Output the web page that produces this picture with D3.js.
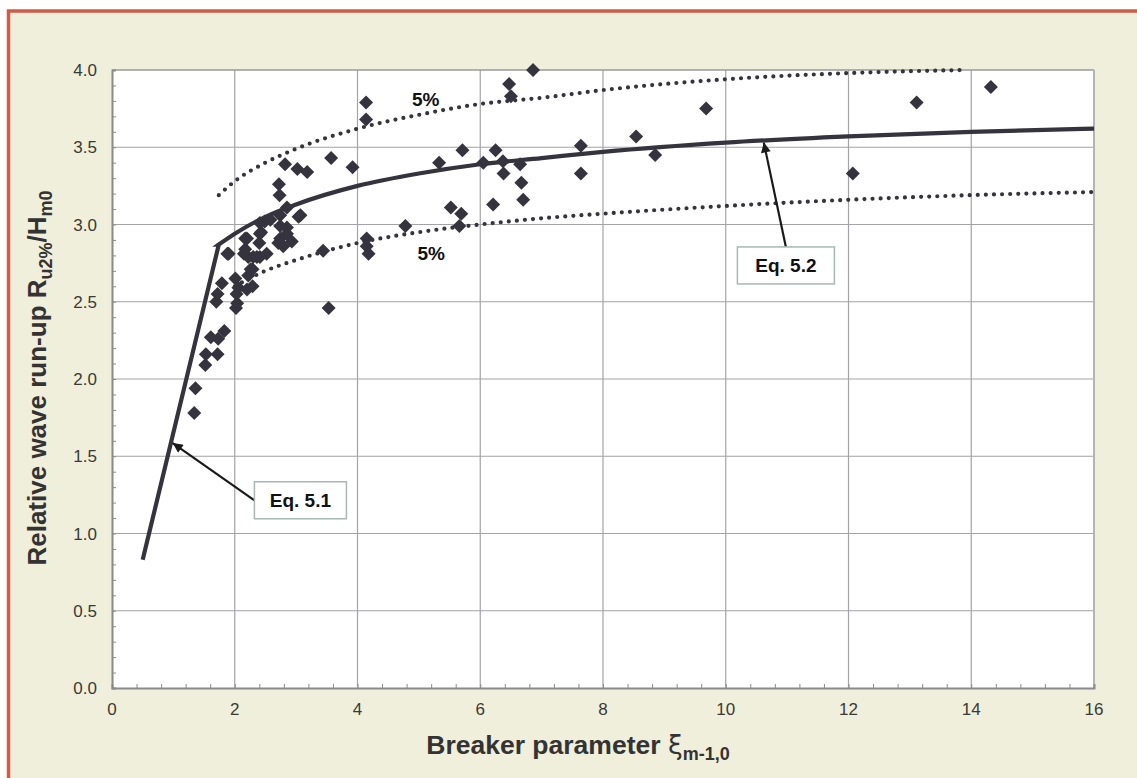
<!DOCTYPE html>
<html><head><meta charset="utf-8">
<script src="https://cdn.jsdelivr.net/npm/d3@7"></script>
<style>
html,body{margin:0;padding:0;background:#fff;}
svg{display:block;}
text{font-family:"Liberation Sans",Arial,Helvetica,sans-serif;}
</style></head>
<body>
<svg id="chart" width="1137" height="778"></svg>
<script>
// ---- data ----
const xiValues = [1.34,1.36,1.52,1.53,1.61,1.72,1.73,1.83,1.70,1.72,1.79,1.88,2.02,2.04,2.03,2.01,2.06,2.20,2.29,2.22,2.29,2.17,2.15,2.22,2.30,2.41,2.40,2.52,2.41,2.71,2.74,2.85,2.93,2.49,2.58,2.74,2.85,3.04,2.72,2.73,2.82,3.02,3.18,3.57,3.92,2.79,2.36,2.17,3.44,3.53,4.15,4.15,4.18,4.14,4.14,4.78,5.33,5.52,5.69,5.66,5.71,6.05,6.21,6.25,6.37,6.38,6.47,6.50,6.65,6.67,6.70,6.86,7.64,7.64,8.54,8.85,9.68,12.07,13.11,14.32,2.43,2.85,2.74,2.26,2.41,3.07,1.90,2.20];
const ruValues = [1.78,1.94,2.09,2.16,2.27,2.16,2.26,2.31,2.50,2.55,2.62,2.81,2.46,2.49,2.55,2.65,2.59,2.58,2.60,2.67,2.71,2.91,2.81,2.79,2.79,2.94,2.88,2.81,2.79,2.88,2.91,2.94,2.89,3.02,3.03,3.06,3.11,3.05,3.26,3.19,3.39,3.36,3.34,3.43,3.37,2.86,2.79,2.84,2.83,2.46,2.91,2.86,2.81,3.79,3.68,2.99,3.40,3.11,3.07,2.99,3.48,3.40,3.13,3.48,3.41,3.33,3.91,3.83,3.39,3.27,3.16,4.00,3.51,3.33,3.57,3.45,3.75,3.33,3.79,3.89,2.95,2.98,2.99,2.71,3.01,3.06,2.81,2.91];

const eq51Xi = [0.5, 1.74];
const eq51R  = [0.83, 2.87];
const eq52Xi = [1.74, 2, 2.5, 3, 4, 5, 6, 7, 8, 10, 12, 14, 16];
const eq52R  = [2.87, 2.94, 3.05, 3.13, 3.25, 3.33, 3.39, 3.43, 3.47, 3.53, 3.57, 3.60, 3.62];
const upperXi = [1.74, 2, 2.5, 3, 4, 5, 6, 7, 8, 10, 12, 13.9];
const upperR  = [3.19, 3.28, 3.40, 3.49, 3.62, 3.71, 3.78, 3.82, 3.87, 3.94, 3.98, 4.00];
const lowerXi = [2, 2.5, 3, 4, 5, 6, 7, 8, 10, 12, 14, 16];
const lowerR  = [2.60, 2.70, 2.77, 2.88, 2.95, 3.00, 3.04, 3.07, 3.12, 3.16, 3.19, 3.21];

const xTicks = [0,2,4,6,8,10,12,14,16];
const yTicks = [0,0.5,1,1.5,2,2.5,3,3.5,4];
const xTickLabels = ["0","2","4","6","8","10","12","14","16"];
const yTickLabels = ["0.0","0.5","1.0","1.5","2.0","2.5","3.0","3.5","4.0"];

const labels5 = [{xi:5.11, r:3.77, text:"5%"}, {xi:5.2, r:2.77, text:"5%"}];
const eqNotes = [
  {text:"Eq. 5.1", boxXi:3.07, boxR:1.215, w:92, h:37, tipXi:0.99, tipR:1.585, from:"left"},
  {text:"Eq. 5.2", boxXi:10.98, boxR:2.735, w:97, h:37, tipXi:10.62, tipR:3.53, from:"top"}
];

// ---- drawing ----
const svg = d3.select("#chart");
const W = 1137, H = 778;
const M = {left:112, right:1094, top:70, bottom:688};
const ink = "#35343e";

svg.append("rect").attr("x",0).attr("y",0).attr("width",W).attr("height",H).attr("fill","#fff");
svg.append("rect").attr("x",8.5).attr("y",11).attr("width",W).attr("height",H).attr("fill","#F0EFDB");
svg.append("path").attr("d",`M8.5,${H} V11 H${W}`).attr("fill","none").attr("stroke","#D25B48").attr("stroke-width",3.5);

const x = d3.scaleLinear().domain([0,16]).range([M.left, M.right]);
const y = d3.scaleLinear().domain([0,4]).range([M.bottom, M.top]);

svg.append("rect").attr("x",M.left).attr("y",M.top).attr("width",M.right-M.left).attr("height",M.bottom-M.top).attr("fill","#fff");

const grid = svg.append("g");
grid.selectAll("line.gx").data(xTicks.slice(1,-1)).join("line")
  .attr("x1",d=>x(d)).attr("x2",d=>x(d)).attr("y1",M.top).attr("y2",M.bottom)
  .attr("stroke","#a3a3a8").attr("stroke-width",1.2);
grid.selectAll("line.gy").data(yTicks.slice(1,-1)).join("line")
  .attr("y1",d=>y(d)).attr("y2",d=>y(d)).attr("x1",M.left).attr("x2",M.right)
  .attr("stroke","#a3a3a8").attr("stroke-width",1.2);

svg.append("line").attr("x1",M.left).attr("x2",M.right).attr("y1",M.top).attr("y2",M.top).attr("stroke","#9a9a9e").attr("stroke-width",1.5);
svg.append("line").attr("x1",M.right).attr("x2",M.right).attr("y1",M.top).attr("y2",M.bottom).attr("stroke","#b4b4b6").attr("stroke-width",2);

const xAxis = d3.axisBottom(x).tickValues(d3.range(0,16.01,0.4)).tickSize(-4).tickFormat("");
const gx = svg.append("g").attr("transform",`translate(0,${M.bottom})`).call(xAxis);
gx.select(".domain").attr("stroke","#8a8a8e").attr("stroke-width",2);
gx.selectAll(".tick line").attr("stroke","#8a8a8e").attr("stroke-width",1);
const yAxis = d3.axisLeft(y).tickValues(d3.range(0,4.001,0.1)).tickSize(-4).tickFormat("");
const gy = svg.append("g").attr("transform",`translate(${M.left},0)`).call(yAxis);
gy.select(".domain").attr("stroke","#8a8a8e").attr("stroke-width",2);
gy.selectAll(".tick line").attr("stroke","#8a8a8e").attr("stroke-width",1);

svg.append("g").selectAll("text").data(xTicks).join("text")
  .attr("x",d=>x(d)).attr("y",M.bottom+27).attr("text-anchor","middle")
  .attr("font-size",17).attr("fill","#3a3a36").text((d,i)=>xTickLabels[i]);
svg.append("g").selectAll("text").data(yTicks).join("text")
  .attr("x",M.left-15).attr("y",d=>y(d)+6).attr("text-anchor","end")
  .attr("font-size",17).attr("fill","#3a3a36").text((d,i)=>yTickLabels[i]);

const xt = svg.append("text").attr("x",578).attr("y",754).attr("text-anchor","middle")
  .attr("font-size",26.5).attr("font-weight","bold").attr("fill","#333");
xt.append("tspan").text("Breaker parameter ");
xt.append("tspan").attr("font-weight","normal").attr("font-family","DejaVu Sans").text("ξ");
xt.append("tspan").attr("font-size",18).attr("dy",6).text("m-1,0");

const yt = svg.append("text").attr("transform","translate(46,378) rotate(-90)").attr("text-anchor","middle")
  .attr("font-size",26).attr("font-weight","bold").attr("fill","#333");
yt.append("tspan").text("Relative wave run-up R");
yt.append("tspan").attr("font-size",18).attr("dy",6).text("u2%");
yt.append("tspan").attr("dy",-6).text("/H");
yt.append("tspan").attr("font-size",18).attr("dy",6).text("m0");

const line = (xs,ys,curve) => d3.line().x(d=>x(d[0])).y(d=>y(d[1])).curve(curve)(xs.map((v,i)=>[v,ys[i]]));
[[upperXi,upperR],[lowerXi,lowerR]].forEach(([xs,ys])=>{
  svg.append("path").attr("d",line(xs,ys,d3.curveMonotoneX)).attr("fill","none")
    .attr("stroke",ink).attr("stroke-width",4.2).attr("stroke-linecap","round").attr("stroke-dasharray","0,8.1");
});
svg.append("path").attr("d",line(eq51Xi,eq51R,d3.curveLinear)+ line(eq52Xi,eq52R,d3.curveMonotoneX).replace(/^M[^LC]*/,"L"+x(eq52Xi[0])+","+y(eq52R[0])))
  .attr("fill","none").attr("stroke",ink).attr("stroke-width",4.2).attr("stroke-linejoin","miter");

const sym = d3.symbol().type(d3.symbolSquare).size(98);
svg.append("g").selectAll("path").data(xiValues.map((v,i)=>[v,ruValues[i]])).join("path")
  .attr("d",sym).attr("transform",d=>`translate(${x(d[0])},${y(d[1])}) rotate(45)`)
  .attr("fill",ink);

svg.append("g").selectAll("text").data(labels5).join("text")
  .attr("x",d=>x(d.xi)).attr("y",d=>y(d.r)).attr("text-anchor","middle")
  .attr("font-size",19).attr("font-weight","bold").attr("fill","#111").text(d=>d.text);

const defs = svg.append("defs");
defs.append("marker").attr("id","ah").attr("viewBox","0 0 10 10").attr("refX",10).attr("refY",5)
  .attr("markerWidth",5).attr("markerHeight",4.5).attr("orient","auto").attr("markerUnits","strokeWidth")
  .append("path").attr("d","M0,0 L10,5 L0,10 z").attr("fill","#1a1a1a");
eqNotes.forEach(n=>{
  const cx = x(n.boxXi), cy = y(n.boxR);
  const sx = n.from==="left" ? cx-n.w/2 : cx;
  const sy = n.from==="left" ? cy : cy-n.h/2;
  svg.append("line").attr("x1",sx).attr("y1",sy).attr("x2",x(n.tipXi)).attr("y2",y(n.tipR))
    .attr("stroke","#1a1a1a").attr("stroke-width",2.2).attr("marker-end","url(#ah)");
  svg.append("rect").attr("x",cx-n.w/2).attr("y",cy-n.h/2).attr("width",n.w).attr("height",n.h)
    .attr("fill","#fff").attr("stroke","#a9b8b3").attr("stroke-width",1.5);
  svg.append("text").attr("x",cx).attr("y",cy+7).attr("text-anchor","middle")
    .attr("font-size",19).attr("font-weight","bold").attr("fill","#111").text(n.text);
});
</script>
</body></html>
